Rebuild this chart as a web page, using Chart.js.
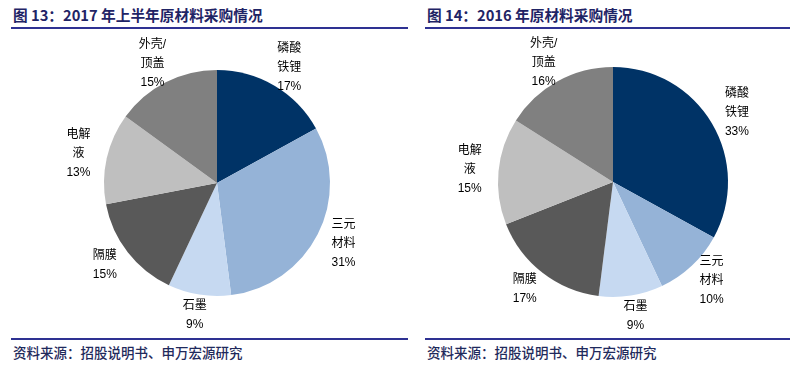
<!DOCTYPE html>
<html>
<head>
<meta charset="utf-8">
<script src="https://cdn.jsdelivr.net/npm/chart.js"></script>
<style>
  body { margin: 0; background: #fff; width: 798px; height: 368px; position: relative; overflow: hidden; }
  .title { position: absolute; top: 4px; font: bold 14.7px "Noto Sans CJK SC", sans-serif; color: #1f2466; white-space: nowrap; }
  .src { position: absolute; top: 342px; font: 500 13.5px "Noto Sans CJK SC", sans-serif; color: #1f2a5c; white-space: nowrap; }
  .rule { position: absolute; height: 2px; background: #2e3192; }
  .box { position: absolute; top: 30px; height: 305px; }
</style>
</head>
<body>
  <div class="title" style="left:13px">图 13：2017 年上半年原材料采购情况</div>
  <div class="title" style="left:427px">图 14：2016 年原材料采购情况</div>
  <div class="rule" style="left:11px; width:397px; top:27px"></div>
  <div class="rule" style="left:425px; width:365px; top:27px"></div>
  <div class="rule" style="left:11px; width:397px; top:338px"></div>
  <div class="rule" style="left:425px; width:365px; top:338px"></div>
  <div class="src" style="left:13px">资料来源：招股说明书、申万宏源研究</div>
  <div class="src" style="left:427px">资料来源：招股说明书、申万宏源研究</div>

  <div class="box" style="left:0; width:408px"><canvas id="pie1"></canvas></div>
  <div class="box" style="left:410px; width:388px"><canvas id="pie2"></canvas></div>

<script>
// categories (multi-line labels as drawn next to the slices)
const categories = [['磷酸', '铁锂'], ['三元', '材料'], ['石墨'], ['隔膜'], ['电解', '液'], ['外壳/', '顶盖']];
// purchase share (%)
const values2017H1 = [17, 31, 9, 15, 13, 15];
const values2016 = [33, 10, 9, 17, 15, 16];
const colors = ['#003366', '#95b3d7', '#c6d9f1', '#595959', '#bfbfbf', '#808080'];

// draws "label / xx%" outside each slice
const outsideLabels = {
  id: 'outsideLabels',
  afterDatasetsDraw(chart) {
    const ctx = chart.ctx;
    const meta = chart.getDatasetMeta(0);
    const data = chart.data.datasets[0].data;
    ctx.save();
    ctx.font = '12px "Liberation Sans", Arial, "Noto Sans CJK SC", sans-serif';
    ctx.fillStyle = '#000';
    ctx.textAlign = 'center';
    ctx.textBaseline = 'middle';
    meta.data.forEach((arc, i) => {
      const p = arc.getProps(['x', 'y', 'startAngle', 'endAngle', 'outerRadius']);
      const mid = (p.startAngle + p.endAngle) / 2;
      const x = p.x + Math.cos(mid) * (p.outerRadius + 29);
      const y = p.y + Math.sin(mid) * (p.outerRadius + 21);
      const lines = chart.data.labels[i].concat([data[i] + '%']);
      const lh = 19;
      const top = y - (lines.length - 1) * lh / 2;
      lines.forEach((t, k) => ctx.fillText(t, x, top + k * lh));
    });
    ctx.restore();
  }
};

function makePie(id, values, pad) {
  new Chart(document.getElementById(id), {
    type: 'pie',
    data: {
      labels: categories,
      datasets: [{
        data: values,
        backgroundColor: colors,
        borderWidth: 0
      }]
    },
    options: {
      responsive: true,
      maintainAspectRatio: false,
      animation: false,
      layout: { padding: pad },
      plugins: {
        legend: { display: false },
        tooltip: { enabled: false }
      }
    },
    plugins: [outsideLabels]
  });
}

makePie('pie1', values2017H1, { left: 104, right: 78, top: 40, bottom: 39 });
makePie('pie2', values2016, { left: 88, right: 70, top: 37, bottom: 38 });
</script>
</body>
</html>
